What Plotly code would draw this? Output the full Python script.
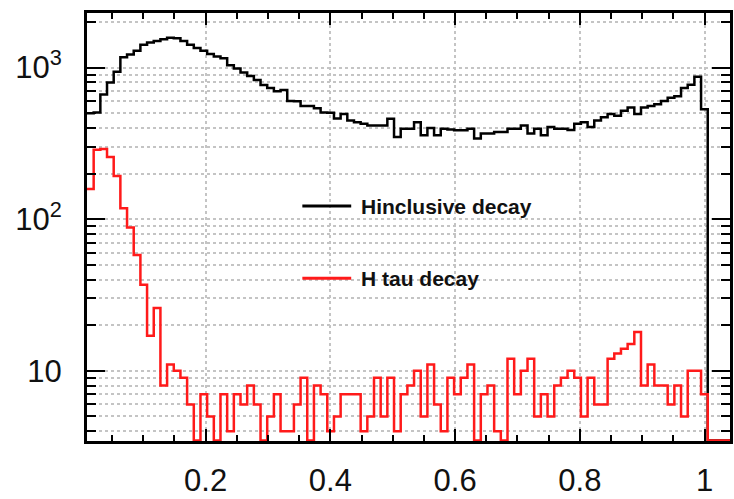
import numpy as np
import plotly.graph_objects as go

# ---------------- data ----------------
# fixed-width histogram bins; the first listed bin starts at the left frame
BIN_START = 0.0099
BIN_WIDTH = 0.0107

# H inclusive decay (black)
h_inclusive = [500, 506, 664, 797, 938, 1172, 1218, 1292, 1412, 1463,
               1499, 1536, 1575, 1560, 1499, 1412, 1345, 1292, 1230, 1182,
               1154, 1035, 986, 929, 880, 829, 769, 732, 697, 712,
               601, 600, 559, 559, 540, 506, 503, 462, 494, 447,
               436, 426, 415, 415, 415, 459, 349, 395, 395, 436,
               358, 400, 358, 395, 390, 386, 386, 395, 341, 367,
               367, 376, 376, 395, 395, 415, 367, 395, 358, 405,
               395, 395, 387, 426, 436, 405, 447, 470, 494, 482,
               519, 545, 494, 545, 559, 573, 601, 632, 648, 733,
               770, 871, 532, 0, 0, 0, 0]

# H tau decay (red)
h_tau = [158, 287, 290, 257, 193, 118, 88, 58, 37, 17,
         26, 8, 11, 10, 9, 6,
         0, 7, 5, 0, 7, 4, 7, 6, 8, 6,
         0, 5, 7, 4, 4, 6, 9, 0, 8, 7,
         4, 5, 7, 7, 7, 4, 5, 9, 5, 9,
         4, 7, 8, 10, 5, 11, 6, 4, 9, 7,
         9, 11, 0, 7, 8, 4, 0, 12, 7, 10,
         12, 5, 7, 5, 8, 9, 10, 9, 5, 9,
         6, 6, 12, 13, 14, 15, 18, 8, 11, 8,
         8, 6, 8, 5, 10, 10, 7, 0, 0, 0, 0]

series_names = ["Hinclusive decay", "H tau decay"]
series_colors = ["black", "#ff1a1a"]

x_range = [0.0099, 1.0407]
y_log_range = [0.537, 3.36]
y_major = [10, 100, 1000]
y_major_text = ["10", "10<sup>2</sup>", "10<sup>3</sup>"]

FONT = "Liberation Sans, Arial, Helvetica, sans-serif"


def step_xy(values):
    edges = BIN_START + BIN_WIDTH * np.arange(len(values) + 1)
    floor = 10 ** (y_log_range[0] + 0.004)  # empty bins drawn on the frame bottom
    v = np.asarray(values, dtype=float)
    v = np.where(v > 0, v, floor)
    return edges, np.append(v, v[-1])


fig = go.Figure()
for vals, name, col in zip([h_inclusive, h_tau], series_names, series_colors):
    xs, ys = step_xy(vals)
    fig.add_trace(go.Scatter(x=xs, y=ys, mode="lines", name=name,
                             line=dict(shape="hv", color=col, width=2.5),
                             showlegend=False, hoverinfo="skip"))

grid_col = "#c4c4c4"
minor_y = [m * 10 ** e for e in range(0, 4) for m in range(2, 10)]

fig.update_layout(
    width=734, height=499,
    margin=dict(l=87, r=1, t=13, b=47),
    paper_bgcolor="white", plot_bgcolor="white",
    font=dict(family=FONT, color="#111111"),
    xaxis=dict(range=x_range, showline=True, linecolor="black", linewidth=3,
               mirror="ticks", ticks="inside", ticklen=12, tickwidth=2,
               tickcolor="black", tick0=0, dtick=0.2,
               tickfont=dict(size=31, family=FONT, color="#111111"),
               ticklabelstandoff=10,
               showgrid=True, gridcolor=grid_col, griddash="dot", gridwidth=1.5,
               zeroline=False,
               minor=dict(ticks="inside", ticklen=6, tickwidth=2,
                          tickcolor="black", tick0=0, dtick=0.05,
                          showgrid=False)),
    yaxis=dict(type="log", range=y_log_range, showline=True, linecolor="black",
               linewidth=3, mirror="ticks", ticks="inside", ticklen=18,
               tickwidth=2, tickcolor="black",
               tickmode="array", tickvals=y_major, ticktext=y_major_text,
               tickfont=dict(size=31, family=FONT, color="#111111"),
               ticklabelstandoff=16,
               showgrid=True, gridcolor=grid_col, griddash="dot", gridwidth=1.5,
               zeroline=False,
               minor=dict(ticks="inside", ticklen=9, tickwidth=2,
                          tickcolor="black", tickmode="array", tickvals=minor_y,
                          showgrid=True, gridcolor=grid_col, griddash="dot",
                          gridwidth=1.5)),
)

# legend: white box over the grid, line samples and labels
box = dict(x0=0.3194, x1=0.7442, y0=0.2961, y1=0.6355)
fig.add_shape(type="rect", xref="paper", yref="paper", layer="between",
              line=dict(width=0), fillcolor="white", **box)
legend_y = [0.549, 0.3804]
for name, col, ly in zip(series_names, series_colors, legend_y):
    fig.add_shape(type="line", xref="paper", yref="paper", x0=0.3349, x1=0.4109,
                  y0=ly, y1=ly, line=dict(color=col, width=3))
    fig.add_annotation(x=0.4233, y=ly, xref="paper", yref="paper", text=name,
                       showarrow=False, xanchor="left", yanchor="middle",
                       font=dict(size=21, family=FONT, color="#111111",
                                 weight="bold"))

fig.write_html("out.html")
